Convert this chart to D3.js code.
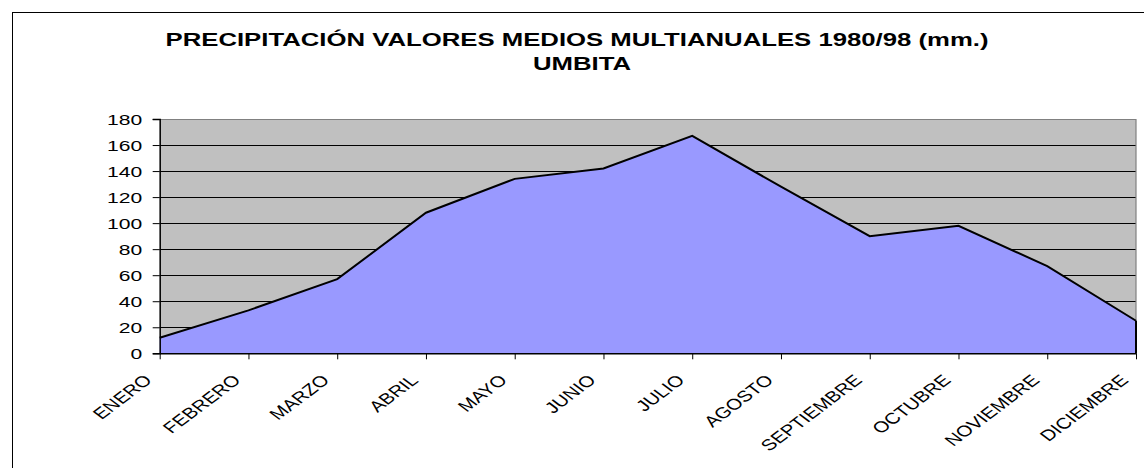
<!DOCTYPE html>
<html><head><meta charset="utf-8">
<script src="https://cdn.jsdelivr.net/npm/d3@7"></script>
<style>body{margin:0;background:#fff}svg{display:block}text{font-family:"Liberation Sans",Arial,sans-serif;fill:#000}</style>
</head><body>
<svg id="c" width="1144" height="468"></svg>
<script>
const titleLines = ["PRECIPITACIÓN VALORES MEDIOS MULTIANUALES 1980/98 (mm.)", "UMBITA"];
const months = ["ENERO","FEBRERO","MARZO","ABRIL","MAYO","JUNIO","JULIO","AGOSTO","SEPTIEMBRE","OCTUBRE","NOVIEMBRE","DICIEMBRE"];
const precip = [12, 33, 57, 108, 134, 142, 167, 128, 90, 98, 67, 25];
const yTicks = [0, 20, 40, 60, 80, 100, 120, 140, 160, 180];

const sx = 1.33; // horizontal stretch of the original rendering
const svg = d3.select("#c");
const L = 159.7, R = 1136, T = 119, B = 353.3;

svg.append("rect").attr("x", 12.5).attr("y", 12.5).attr("width", 1200).attr("height", 600)
  .attr("fill", "#fff").attr("stroke", "#000").attr("stroke-width", 1);

const x = d3.scalePoint().domain(months).range([L, R]);
const y = d3.scaleLinear().domain([0, 180]).range([B, T]);

svg.append("rect").attr("x", L).attr("y", T).attr("width", R - L).attr("height", B - T).attr("fill", "#C0C0C0");

// gridlines
svg.append("g").selectAll("line").data(yTicks.filter(v => v > 0 && v < 180)).join("line")
  .attr("x1", L).attr("x2", R).attr("y1", d => Math.round(y(d)) + 0.5).attr("y2", d => Math.round(y(d)) + 0.5)
  .attr("stroke", "#000").attr("stroke-width", 1);
// plot border top/right
svg.append("path").attr("d", `M${L},${Math.round(T)+0.5}H${R}V${B}`).attr("fill", "none").attr("stroke", "#808080").attr("stroke-width", 1.2);

const area = d3.area().x((d, i) => x(months[i])).y0(B).y1(d => y(d));
svg.append("path").datum(precip).attr("d", area).attr("fill", "#9999FF");
const line = d3.line().x((d, i) => x(months[i])).y(d => y(d));
svg.append("path").datum(precip).attr("d", line).attr("fill", "none").attr("stroke", "#000").attr("stroke-width", 2);
svg.append("line").attr("x1", R).attr("x2", R).attr("y1", y(precip[precip.length-1])).attr("y2", B).attr("stroke", "#000").attr("stroke-width", 2);

// y axis
const yAxis = d3.axisLeft(y).tickValues(yTicks).tickSize(7).tickFormat(d3.format("d"));
const gy = svg.append("g").attr("transform", `translate(${L},0)`).call(yAxis);
gy.select(".domain").attr("stroke", "#000").attr("stroke-width", 1.5);
gy.selectAll(".tick line").attr("stroke", "#000");
gy.selectAll(".tick text").remove();
gy.selectAll(".tick").append("text")
  .attr("transform", `translate(-17.5,5.5) scale(1.36,1)`)
  .attr("text-anchor", "end").attr("font-size", 15.5).text(d => d);

// x axis
const xAxis = d3.axisBottom(x).tickSize(6).tickSizeOuter(0);
const gx = svg.append("g").attr("transform", `translate(0,${B})`).call(xAxis);
gx.select(".domain").attr("stroke", "#000").attr("stroke-width", 1.5);
gx.selectAll(".tick line").attr("stroke", "#000");
gx.selectAll(".tick text").remove();
gx.selectAll(".tick").append("text")
  .attr("transform", `translate(-7,28) scale(${sx},1) rotate(-45)`)
  .attr("text-anchor", "end").attr("font-size", 15.5).text(d => d);

// title
const tg = svg.append("g");
titleLines.forEach((t, i) => {
  tg.append("text").attr("transform", `translate(${i === 0 ? 577 : 582},${i === 0 ? 46 : 70}) scale(1.43,1)`)
    .attr("text-anchor", "middle").attr("font-size", 18).attr("font-weight", "bold").text(t);
});
</script>
</body></html>
